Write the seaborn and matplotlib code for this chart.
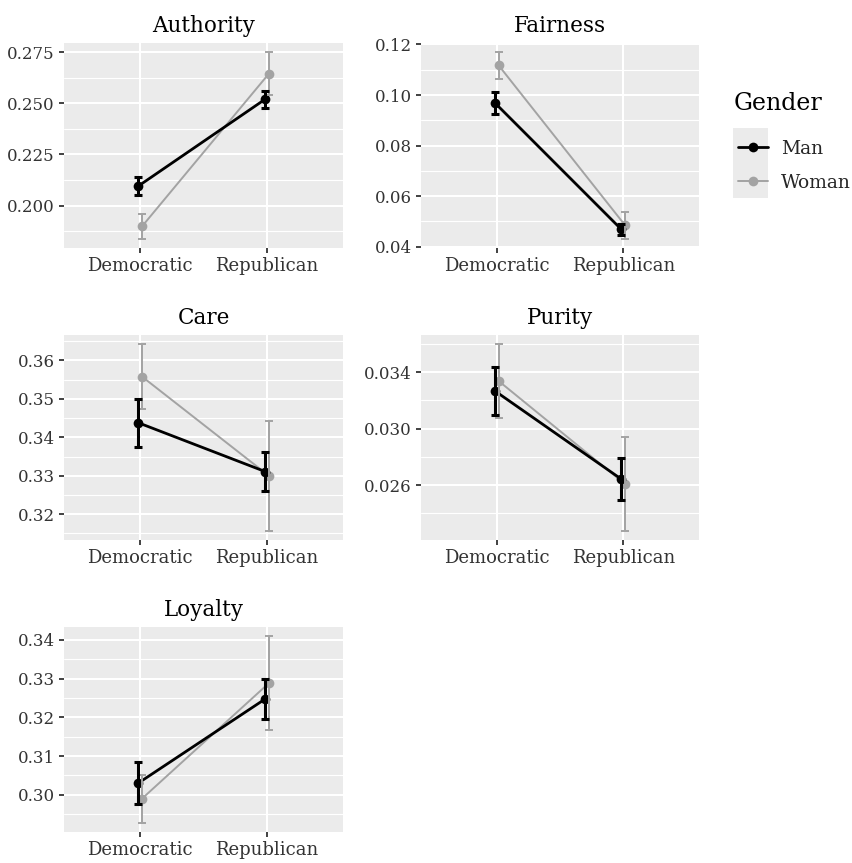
import numpy as np
import pandas as pd
import matplotlib
matplotlib.use("Agg")
import matplotlib.pyplot as plt
from matplotlib.patches import Rectangle
import seaborn as sns

# categories
parties = ["Democratic", "Republican"]
genders = ["Man", "Woman"]
foundations = ["Authority", "Fairness", "Care", "Purity", "Loyalty"]

# means per gender: [Democratic, Republican]
authority_man = [0.2095, 0.2520]
authority_woman = [0.1898, 0.2645]
fairness_man = [0.0969, 0.0469]
fairness_woman = [0.1117, 0.0485]
care_man = [0.3438, 0.3311]
care_woman = [0.3558, 0.3300]
purity_man = [0.03266, 0.02642]
purity_woman = [0.03336, 0.02607]
loyalty_man = [0.3030, 0.3247]
loyalty_woman = [0.2990, 0.3288]

# error bar half-widths
authority_man_err = [0.0045, 0.0043]
authority_woman_err = [0.0060, 0.0105]
fairness_man_err = [0.0043, 0.0022]
fairness_woman_err = [0.0052, 0.0053]
care_man_err = [0.0062, 0.0050]
care_woman_err = [0.0084, 0.0143]
purity_man_err = [0.00170, 0.00147]
purity_woman_err = [0.00260, 0.00330]
loyalty_man_err = [0.0054, 0.0051]
loyalty_woman_err = [0.0062, 0.0121]

# y tick labels per panel
authority_ticks = ["0.200", "0.225", "0.250", "0.275"]
fairness_ticks = ["0.04", "0.06", "0.08", "0.10", "0.12"]
care_ticks = ["0.32", "0.33", "0.34", "0.35", "0.36"]
purity_ticks = ["0.026", "0.030", "0.034"]
loyalty_ticks = ["0.30", "0.31", "0.32", "0.33", "0.34"]

means = {
    "Authority": (authority_man, authority_woman),
    "Fairness": (fairness_man, fairness_woman),
    "Care": (care_man, care_woman),
    "Purity": (purity_man, purity_woman),
    "Loyalty": (loyalty_man, loyalty_woman),
}
errs = {
    "Authority": (authority_man_err, authority_woman_err),
    "Fairness": (fairness_man_err, fairness_woman_err),
    "Care": (care_man_err, care_woman_err),
    "Purity": (purity_man_err, purity_woman_err),
    "Loyalty": (loyalty_man_err, loyalty_woman_err),
}
ticks = {
    "Authority": authority_ticks,
    "Fairness": fairness_ticks,
    "Care": care_ticks,
    "Purity": purity_ticks,
    "Loyalty": loyalty_ticks,
}

rows = []
for f in foundations:
    for gi, g in enumerate(genders):
        for pi, p in enumerate(parties):
            rows.append({"Foundation": f, "Gender": g, "Party": p, "pidx": pi,
                         "mean": means[f][gi][pi], "err": errs[f][gi][pi]})
df = pd.DataFrame(rows)

sns.set_theme(style="darkgrid")
plt.rcParams["font.family"] = ["DejaVu Serif", "DejaVu Sans"]

W, H = 853, 863
fig = plt.figure(figsize=(W / 100, H / 100), dpi=100)
fig.patch.set_facecolor("white")


def px_rect(l, t, r, b):
    return [l / W, 1 - b / H, (r - l) / W, (b - t) / H]


panel_px = {
    "Authority": (64, 43, 343, 248),
    "Fairness": (421, 43, 699, 248),
    "Care": (64, 335, 343, 540),
    "Purity": (421, 335, 699, 540),
    "Loyalty": (64, 627, 343, 832),
}
colors = {"Man": "black", "Woman": "#A3A3A3"}
line_w = {"Man": 2.0, "Woman": 1.4}
err_w = {"Man": 2.2, "Woman": 1.4}
dodge = {"Man": -0.015, "Woman": 0.015}

for f in foundations:
    ax = fig.add_axes(px_rect(*panel_px[f]))
    ax.set_facecolor("#EBEBEB")
    sub = df[df["Foundation"] == f].copy()
    sub["x"] = sub["pidx"] + sub["Gender"].map(dodge)

    # ggplot-like limits: data range with 5% expansion
    lo = (sub["mean"] - sub["err"]).min()
    hi = (sub["mean"] + sub["err"]).max()
    pad = (hi - lo) * 0.05
    ax.set_ylim(lo - pad, hi + pad)
    ax.set_xlim(-0.6, 1.6)

    major = [float(t) for t in ticks[f]]
    step = major[1] - major[0]
    minor = [m + step / 2 for m in [major[0] - step] + major]
    minor = [m for m in minor if lo - pad < m < hi + pad]
    ax.set_yticks(major)
    ax.set_yticklabels(ticks[f])
    ax.set_yticks(minor, minor=True)
    ax.set_xticks([0, 1])
    ax.set_xticklabels(parties)
    ax.grid(False)
    for m in minor:
        ax.axhline(m, color="white", lw=0.8, zorder=0)
    for m in major:
        ax.axhline(m, color="white", lw=1.5, zorder=0)
    for xv in [0, 1]:
        ax.axvline(xv, color="white", lw=1.5, zorder=0)

    for g in ["Woman", "Man"]:
        gs = sub[sub["Gender"] == g]
        sns.lineplot(data=gs, x="x", y="mean", color=colors[g], lw=line_w[g],
                     marker="o", markersize=7, markeredgewidth=0, ax=ax,
                     legend=False, zorder=3)
        ax.errorbar(gs["x"], gs["mean"], yerr=gs["err"], fmt="none",
                    ecolor=colors[g], elinewidth=err_w[g], capsize=2.6,
                    capthick=err_w[g], zorder=4)

    ax.set_xlabel("")
    ax.set_ylabel("")
    ax.set_title(f, fontsize=15.5, color="black", pad=8)
    for s in ax.spines.values():
        s.set_visible(False)
    ax.tick_params(axis="both", which="major", length=3.5, width=1.3,
                   color="#333333", labelcolor="#333333",
                   left=True, bottom=True, pad=3)
    ax.tick_params(axis="x", labelsize=13)
    ax.tick_params(axis="y", labelsize=12)
    ax.tick_params(axis="y", which="minor", length=0)

# legend
fig.patches.append(Rectangle((733 / W, 1 - 198 / H), 35 / W, 70 / H,
                             transform=fig.transFigure, facecolor="#EBEBEB",
                             edgecolor="none", zorder=0))
fig.text(734 / W, 1 - 103 / H, "Gender", fontsize=17, color="black",
         ha="left", va="center")
handles = [plt.Line2D([], [], color=colors[g], lw=line_w[g], marker="o",
                      markersize=7, markeredgewidth=0) for g in genders]
leg = fig.legend(handles, genders, loc="upper left",
                 bbox_to_anchor=(721 / W, 1 - 123 / H), frameon=False,
                 fontsize=13.5, handlelength=1.6,
                 labelspacing=0.85, handletextpad=0.7)

fig.savefig("out.png", dpi=100)
